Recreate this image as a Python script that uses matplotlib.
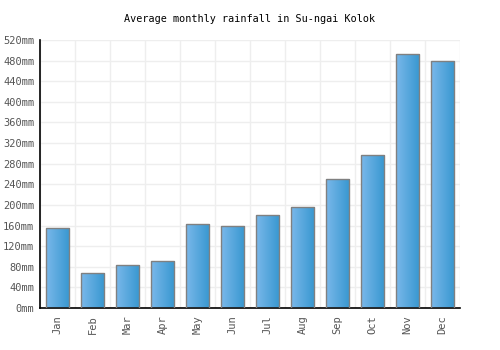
import matplotlib
matplotlib.use("Agg")
import matplotlib.pyplot as plt
import numpy as np
from matplotlib.colors import LinearSegmentedColormap

months = ["Jan", "Feb", "Mar", "Apr", "May", "Jun", "Jul", "Aug", "Sep", "Oct", "Nov", "Dec"]
rainfall = [156, 68, 84, 92, 162, 160, 180, 195, 250, 296, 492, 479]
yticks = list(range(0, 521, 40))
ytick_labels = [f"{v}mm" for v in yticks]

fig = plt.figure(figsize=(5, 3.5), dpi=100)
ax = fig.add_axes([0.08, 0.12, 0.84, 0.766])

x = np.arange(len(months))
bars = ax.bar(x, rainfall, width=0.68, color="none", edgecolor="#808080", linewidth=1.0, zorder=3)

grad = np.linspace(0, 1, 256).reshape(1, -1)
cmap = LinearSegmentedColormap.from_list("g", ["#7ab8ea", "#3797d0"])
for b in bars:
    x0, y0 = b.get_x(), b.get_y()
    w, h = b.get_width(), b.get_height()
    im = ax.imshow(grad, extent=[x0, x0 + w, y0, y0 + h], aspect="auto", cmap=cmap, zorder=2, interpolation="bicubic")
    im.set_clip_path(b)

ax.set_xlim(-0.5, 11.5)
ax.set_ylim(0, 520)
ax.set_yticks(yticks)
ax.set_yticklabels(ytick_labels)
ax.set_xticks(x)
ax.set_xticklabels(months, rotation=90)
ax.set_xticks(np.arange(-0.5, 12, 1), minor=True)

ax.grid(True, axis="y", color="#eeeeee", linewidth=1, zorder=0)
ax.grid(True, axis="x", which="minor", color="#eeeeee", linewidth=1, zorder=0)
ax.set_axisbelow(True)

for s in ["top", "right"]:
    ax.spines[s].set_visible(False)
for s in ["left", "bottom"]:
    ax.spines[s].set_color("black")
    ax.spines[s].set_linewidth(1.2)

ax.tick_params(axis="both", which="both", length=0, labelsize=7.5, labelcolor="#555555")
ax.tick_params(axis="y", pad=4)
ax.tick_params(axis="x", pad=5)
for lab in ax.get_xticklabels() + ax.get_yticklabels():
    lab.set_family("DejaVu Sans Mono")

fig.text(0.5, 0.945, "Average monthly rainfall in Su-ngai Kolok", ha="center", va="center",
         fontsize=7.3, family="DejaVu Sans Mono", color="black")

fig.savefig("out.png", dpi=100)
